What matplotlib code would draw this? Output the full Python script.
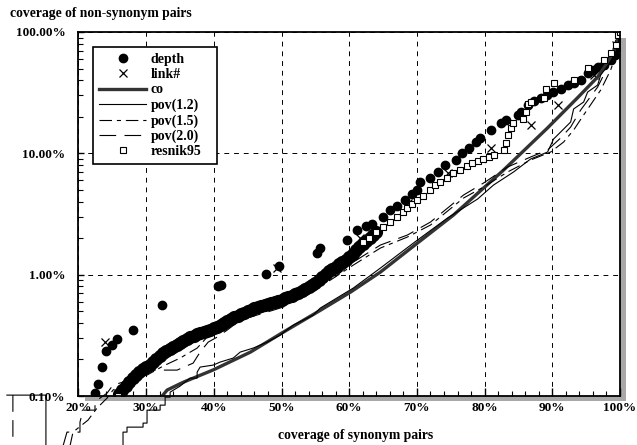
import numpy as np
import matplotlib
matplotlib.use("Agg")
import matplotlib.pyplot as plt
from matplotlib.patches import Rectangle
from matplotlib.ticker import FixedLocator, FuncFormatter, LogLocator, NullFormatter, MultipleLocator

plt.rcParams['font.family'] = 'Liberation Serif'
plt.rcParams['font.weight'] = 'bold'
plt.rcParams['font.size'] = 9.5
plt.rcParams['lines.scale_dashes'] = False

nan = np.nan

# x: coverage of synonym pairs (%), y: coverage of non-synonym pairs (%)
# depth: scattered points
depth_x = [22.44, 22.88, 23.48, 24.07, 24.96, 25.70, 28.06, 32.35, 40.64, 41.08, 47.74, 49.66, 55.28, 55.72,
           59.72, 61.20, 62.53, 63.42, 65.04, 66.08, 67.11, 68.30, 69.33, 70.07, 70.52, 72.00, 73.18, 74.22,
           75.70, 76.73, 77.62, 78.66, 79.39, 80.87, 82.35, 83.09, 84.87, 85.31, 86.35, 87.24, 88.27, 89.16,
           90.04, 91.23, 92.26, 93.15, 94.19, 95.22, 95.96, 96.70, 97.59, 98.62, 99.22, 99.66, 99.81, 100, 100]
depth_y = [0.1056, 0.1253, 0.1731, 0.2346, 0.2627, 0.2944, 0.3493, 0.5617, 0.8054, 0.8213, 1.011, 1.178, 1.507, 1.657,
           1.931, 2.332, 2.516, 2.613, 2.985, 3.408, 3.677, 4.121, 4.618, 4.982, 5.800, 6.258, 7.015, 8.01,
           8.808, 10.06, 11.06, 12.39, 13.37, 15.56, 17.78, 18.83, 20.70, 21.90, 25.01, 26.98, 28.56, 30.24,
           32.00, 33.88, 36.56, 37.98, 40.20, 45.92, 48.60, 51.45, 53.43, 58.75, 64.63, 75.21, 82.74, 98.1, 100]
# depth: the dense run of points that forms the black band
band_x = [26.0, 26.5, 27.0, 27.5, 28.0, 28.5, 29.0, 29.5, 30.0, 30.5, 31.0, 31.5, 32.0, 32.5, 33.0, 33.5,
          34.0, 34.5, 35.0, 35.5, 36.0, 36.5, 37.0, 37.5, 38.0, 38.5, 39.0, 39.5, 40.0, 40.5, 41.0, 41.5,
          42.0, 42.5, 43.0, 43.5, 44.0, 44.5, 45.0, 45.5, 46.0, 46.5, 47.0, 47.5, 48.0, 48.5, 49.0, 49.5,
          50.0, 50.5, 51.0, 51.5, 52.0, 52.5, 53.0, 53.5, 54.0, 54.5, 55.0, 55.5, 56.0, 56.5, 57.0, 57.5,
          58.0, 58.5, 59.0, 59.5, 60.0, 60.5, 61.0, 61.5, 62.0, 62.5, 63.0, 63.5, 64.0]
band_y = [0.1037, 0.1118, 0.1207, 0.1302, 0.1405, 0.1487, 0.1574, 0.1667, 0.1731, 0.1798, 0.1904, 0.2015,
          0.2133, 0.2258, 0.2346, 0.2435, 0.2529, 0.2627, 0.2729, 0.2835, 0.2944, 0.3059, 0.3117, 0.3238,
          0.3300, 0.3363, 0.3428, 0.3493, 0.3629, 0.3698, 0.3840, 0.3990, 0.4144, 0.4305, 0.4472, 0.4558,
          0.4734, 0.4825, 0.5011, 0.5108, 0.5305, 0.5407, 0.5511, 0.5617, 0.5725, 0.5835, 0.5946, 0.6060,
          0.6177, 0.6416, 0.6539, 0.6665, 0.6923, 0.7056, 0.7329, 0.7612, 0.7907, 0.8213, 0.8530, 0.9027,
          0.9555, 1.011, 1.071, 1.112, 1.155, 1.223, 1.270, 1.319, 1.397, 1.478, 1.595, 1.689, 1.788, 1.893,
          2.003, 2.121, 2.246]

link_x = [23.92, 30.0, 35.0, 40.0, 45.0, 49.36, 52.0, 56.0, 61.64, 68.74, 74.66, 80.87, 86.79, 90.78,
          96.11, 98.92, 99.36, 100]
link_y = [0.2781, 0.1731, 0.2729, 0.3629, 0.5011, 1.133, 0.6923, 0.9555, 2.003, 3.89, 6.88, 11.06, 17.1, 25.0,
          44.2, 64.6, 78.1, 100]

co_x = [32.1, 33.1, 35.5, 39.9, 45.4, 50.3, 55.3, 60.2, 64.6, 69.5, 75.4, 82.8, 89.3, 93.7, 96.7, 99.1, 100]
co_y = [0.096, 0.112, 0.130, 0.164, 0.230, 0.337, 0.492, 0.719, 1.05, 1.72, 3.10, 7.28, 16.2, 28.6, 42.6, 67.1, 100]

pov12_x = [9.42, 15.19, 15.19, nan,
           25.10, 26.58, 26.58, 27.17, 27.17, 29.54, 29.54, 30.13, 30.13, 32.06, 32.06, 32.80, 32.80, 33.54,
           33.54, 35.01, 36.49, 37.53, 37.53, 37.97, 39.90, 40.93, 42.86, 43.89, 45.81, 47.88, 49.81, 51.73,
           54.69, 55.72, 58.65, 60.61, 64.60, 69.48, 74.51, 78.96, 81.32, 84.27, 86.79, 89.30, 90.19, 91.23,
           92.71, 93.15, 94.63, 95.22, 96.70, 97.15, 98.62, 99.66, 100]
pov12_y = [0.1017, 0.1017, 0.03, nan,
           0.0386, 0.0386, 0.0504, 0.0504, 0.0554, 0.0554, 0.0598, 0.0598, 0.0765, 0.0765, 0.0841, 0.0841,
           0.0979, 0.0979, 0.1076, 0.1207, 0.1405, 0.1405, 0.1574, 0.1731, 0.1798, 0.1904, 0.2054, 0.2301,
           0.2483, 0.2781, 0.3178, 0.3840, 0.4645, 0.5305, 0.6665, 0.7762, 1.133, 1.822, 2.928, 4.200, 5.479,
           7.015, 8.974, 10.25, 13.12, 14.98, 18.11, 23.19, 26.48, 32.00, 36.56, 44.2, 56.59, 73.81, 100]

pov15_x = [18.74, 19.19, 21.41, 22.74, 24.22, 25.10, 27.62, 30.13, 32.50, 35.01, 37.53, 39.01, 40.93, 42.86,
           45.37, 48.33, 51.29, 54.25, 57.22, 60.61, 64.60, 68.59, 72.00, 76.88, 79.84, 83.39, 86.79, 89.75,
           91.67, 93.15, 94.63, 97.15, 98.62, 99.66, 100]
pov15_y = [0.0386, 0.0504, 0.0633, 0.0795, 0.0961, 0.1118, 0.1352, 0.1487, 0.1764, 0.2054, 0.2483, 0.3059,
           0.3493, 0.4066, 0.4825, 0.5511, 0.6177, 0.7194, 0.9027, 1.200, 1.657, 2.042, 2.564, 4.280, 5.276,
           7.015, 8.808, 10.25, 12.39, 15.56, 20.70, 33.24, 48.60, 71.04, 100]

pov20_x = [10.31, 10.31, nan,
           17.71, 18.30, 20.22, 20.22, 20.67, 22.44, 22.44, 23.18, 24.22, 25.10, 26.58, 27.62, 29.0, 34.57,
           36.94, 37.97, 39.16, 40.49, 41.97, 43.89, 45.37, 47.88, 50.25, 52.77, 55.28, 57.66, 60.61, 64.60,
           68.59, 72.00, 76.88, 79.84, 83.39, 86.79, 89.30, 91.23, 92.71, 94.19, 96.70, 98.33, 99.66, 100]
pov20_y = [0.1017, 0.03, nan,
           0.0386, 0.0504, 0.0504, 0.0609, 0.0765, 0.0765, 0.0874, 0.0961, 0.1056, 0.1230, 0.1302, 0.1487,
           0.1635, 0.1635, 0.1867, 0.2301, 0.2781, 0.3059, 0.3493, 0.4226, 0.4472, 0.4920, 0.5407, 0.6539,
           0.7907, 0.9376, 1.270, 1.754, 2.121, 2.714, 4.530, 5.690, 7.713, 9.322, 10.65, 13.37, 16.47, 22.75,
           35.20, 53.43, 73.81, 100]

resnik_x = [25.84, 62.06, 62.97, 64.01, 65.04, 66.08, 67.11, 68.00, 68.59, 69.33, 70.07, 70.96, 72.00, 72.74,
            73.48, 74.51, 75.40, 76.43, 77.47, 78.21, 78.96, 79.69, 80.58, 81.32, 82.80, 83.09, 83.39, 83.83,
            84.13, 85.61, 86.05, 86.35, 86.79, 88.71, 89.01, 90.19, 93.15, 95.22, 97.59, 98.62, 99.36, 99.66, 100]
resnik_y = [0.100, 1.857, 2.003, 2.246, 2.469, 2.714, 2.985, 3.282, 3.540, 3.819, 4.121, 4.446, 4.982, 5.479,
            5.800, 6.258, 6.882, 7.286, 7.861, 8.318, 8.640, 8.974, 9.322, 9.683, 10.65, 12.16, 14.15, 16.16,
            17.78, 19.18, 21.90, 25.49, 26.48, 28.56, 33.88, 37.98, 40.20, 50.47, 58.75, 67.13, 78.12, 94.47, 100]

x_ticks = [20, 30, 40, 50, 60, 70, 80, 90, 100]
y_ticks = [0.1, 1, 10, 100]

fig = plt.figure(figsize=(6.37, 4.45), dpi=100)
ax = fig.add_axes([0.1232, 0.1101, 0.8501, 0.8180])

# drop shadow behind the plot box
fig.patches.append(Rectangle((84.5 / 637, 1 - 401 / 445), (626 - 84.5) / 637, (401 - 38) / 445,
                             transform=fig.transFigure, facecolor='#a8a8a8', edgecolor='none', zorder=-1))

ax.plot(depth_x, depth_y, 'o', color='black', markersize=6, label='depth')
ax.plot(band_x, band_y, 'o', color='black', markersize=8.5)
ax.plot(link_x, link_y, 'x', color='black', markersize=6, mew=0.9, label='link#')
ax.plot(co_x, co_y, '-', color='#333333', lw=2.4, label='co')
ax.plot(pov12_x, pov12_y, '-', color='black', lw=0.8, clip_on=False, label='pov(1.2)')
ax.plot(pov15_x, pov15_y, color='black', lw=0.8, dashes=(9, 3.5, 3, 3.5), clip_on=False, label='pov(1.5)')
ax.plot(pov20_x, pov20_y, color='black', lw=0.8, dashes=(12, 6), clip_on=False, label='pov(2.0)')
ax.plot(resnik_x, resnik_y, 's', color='black', markerfacecolor='white', markersize=5, mew=0.8,
        label='resnik95')

ax.set_yscale('log')
ax.set_xlim(20, 100)
ax.set_ylim(0.1, 100)

ax.xaxis.set_major_locator(FixedLocator(x_ticks))
ax.xaxis.set_minor_locator(MultipleLocator(2))
ax.xaxis.set_major_formatter(FuncFormatter(lambda v, p: '%d%%' % v))
ax.yaxis.set_major_locator(FixedLocator(y_ticks))
ax.yaxis.set_minor_locator(LogLocator(base=10, subs=range(2, 10)))
ax.yaxis.set_major_formatter(FuncFormatter(lambda v, p: '%.2f%%' % v))
ax.yaxis.set_minor_formatter(NullFormatter())

ax.tick_params(axis='x', which='major', direction='in', length=6, width=1, top=False, pad=4)
ax.tick_params(axis='x', which='minor', direction='in', length=3.5, width=0.8, top=False)
ax.tick_params(axis='y', which='major', direction='in', length=4, width=1, right=False, pad=9.5)
ax.tick_params(axis='y', which='minor', direction='in', length=3.5, width=0.8, right=False)

ax.grid(True, which='major', color='black', lw=0.7, ls=(0, (3.5, 3.5)))
ax.set_axisbelow(True)
for s in ax.spines.values():
    s.set_linewidth(1.3)

leg = ax.legend(loc='upper left', bbox_to_anchor=(0.0268, 0.5, 0.229, 0.4588), mode='expand',
                borderaxespad=0, numpoints=1, fancybox=False, framealpha=1, edgecolor='black',
                handlelength=3.4, handletextpad=0.3, labelspacing=0.15, borderpad=0.45, fontsize=10)
leg.get_frame().set_linewidth(1.2)

fig.text(10 / 637, 1 - 13 / 445, 'coverage of non-synonym pairs', ha='left', va='center', fontsize=9.8)
fig.text(356 / 637, 1 - 435 / 445, 'coverage of synonym pairs', ha='center', va='center', fontsize=9.8)

fig.savefig('out.png', dpi=100)
